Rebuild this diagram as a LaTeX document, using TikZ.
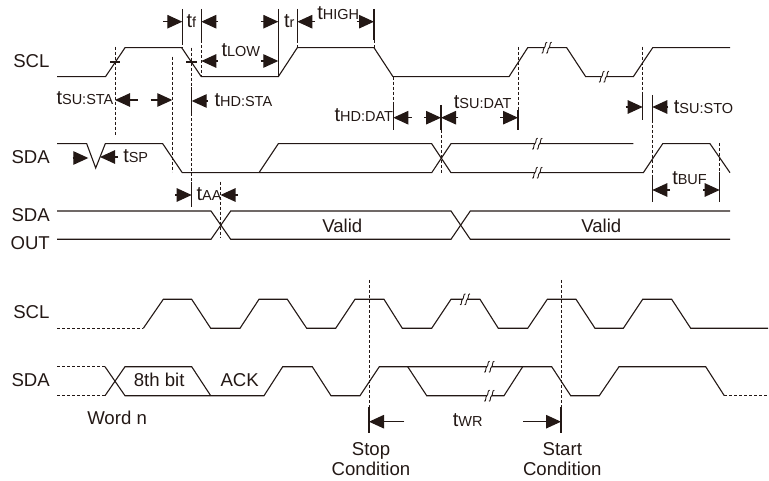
\documentclass[tikz,border=0pt]{standalone}
\usepackage{fontspec}
\setmainfont{Liberation Sans}
\usetikzlibrary{arrows.meta}
\definecolor{inkk}{HTML}{231815}
\newcommand{\tlab}[1]{{\fontsize{20}{20}\selectfont t}{\fontsize{14.5}{14}\selectfont #1}}

\begin{document}
\begin{tikzpicture}[x=1pt,y=-1pt,line width=1.1pt,color=inkk]
	\tikzstyle{lab}=[anchor=base west,inner sep=0pt,font=\fontsize{18.6}{20}\selectfont,text=inkk]
	\tikzstyle{midlab}=[lab,anchor=base]
	\tikzstyle{guide}=[dash pattern=on 3pt off 2pt,line width=1pt]
	\tikzstyle{tick}=[line width=1.1pt]
	\tikzstyle{dimarrow}=[-{Triangle[length=15pt,width=13.5pt]},line width=1.1pt]
	\tikzset{brk/.pic={
		\fill[white] (-2.2,-4) rectangle (2.2,4);
		\draw[line width=.9pt] (-5,5.5) .. controls (-2.8,6) and (-4.2,1) .. (-2.4,0) .. controls (-.8,-1) and (-2,-5.5) .. (.4,-5.5);
		\draw[line width=.9pt] (-.4,5.5) .. controls (1.8,6) and (.4,1) .. (2.4,0) .. controls (3.8,-1) and (2.6,-5.5) .. (5,-5.5);
	}}
	\useasboundingbox (0,0) rectangle (769,481);
	% upper SCL
	\draw (57,76.7) -- (105.5,76.7) -- (125,47.7) -- (181.7,47.7) -- (201.3,76.7) -- (278.3,76.7) -- (297.3,47.7) -- (374,47.7)
		-- (393,76.7) -- (509,76.7) -- (527.7,47.7) -- (566.7,47.7) -- (585.7,76.7) -- (633.3,76.7) -- (652.7,47.7) -- (730,47.7);
	\draw (110,62) -- (120,62);
	\draw (186,62) -- (197,62);
	% upper SDA
	\draw (57,143.7) -- (86.7,143.7) -- (95.7,168) -- (105.3,143.7) -- (162.7,143.7) -- (182.3,172.7) -- (431.7,172.7)
		-- (451,143.7) -- (633.3,143.7);
	\draw (259,172.7) -- (278.3,143.7) -- (431.7,143.7) -- (451,172.7) -- (643.3,172.7) -- (662.7,143.7) -- (710,143.7) -- (730,172.7);
	% SDA OUT
	\draw (57,211) -- (211,211) -- (230.7,239.3) -- (451,239.3) -- (470.3,211) -- (730,211);
	\draw (57,239.3) -- (211,239.3) -- (230.7,211) -- (451,211) -- (470.3,239.3) -- (730,239.3);
	% lower SCL
	\draw[guide] (57,328.3) -- (143.3,328.3);
	\draw (143.3,328.3) -- (163.3,299.3) -- (191.7,299.3) -- (210.7,328.3) -- (240,328.3) -- (259,299.3) -- (287.3,299.3)
		-- (306.7,328.3) -- (335.7,328.3) -- (355,299.3) -- (384,299.3) -- (402.3,328.3) -- (431.7,328.3) -- (451,299.3)
		-- (480,299.3) -- (498.3,328.3) -- (527.7,328.3) -- (547.3,299.3) -- (576,299.3) -- (595,328.3) -- (623.3,328.3)
		-- (642.7,299.3) -- (671.7,299.3) -- (690.7,328.3) -- (768,328.3);
	% lower SDA
	\draw[guide] (57,366.7) -- (105,366.7);
	\draw[guide] (57,395.7) -- (105,395.7);
	\draw[guide] (724.3,395.7) -- (769,395.7);
	\draw (105,366.7) -- (125,395.7) -- (210.7,395.7) -- (264,395.7) -- (282.7,366.7) -- (312.3,366.7) -- (331,395.7)
		-- (360,395.7) -- (379.3,366.7) -- (551.7,366.7) -- (570.7,395.7) -- (599.3,395.7) -- (619,366.7) -- (705.7,366.7) -- (724.3,395.7);
	\draw (105,395.7) -- (125,366.7) -- (191.7,366.7) -- (210.7,395.7);
	\draw (407.7,366.7) -- (426.7,395.7) -- (504,395.7) -- (522.7,366.7);
	% breaks
	\foreach \x/\y in {546.7/47.7,604/76.7,537.3/143.7,537.3/172.7,465/299.3,489.3/366.7,489.3/395.7}
		\pic at (\x,\y) {brk};
	% dashed guides
	\foreach \x/\ya/\yb in {115/46.7/135,172.3/56.7/171.7,191.7/47.7/87,191.7/113/182,220.5/181.7/238,182.3/42/47.7,201.3/40/76.7,297.3/40/47.7,374/40/47.7,
		393.3/76.7/105,441/130/172.7,518/47/110,642.7/46.7/95,652.3/120/175,719.7/143/172,369/280/406.7,561/280/406.7}
		\draw[guide] (\x,\ya) -- (\x,\yb);
	% solid ticks
	\foreach \x/\ya/\yb in {182.3/9/42,201.3/9/40,278.3/9/76.7,297.3/9/40,374/9/40,191.7/87/113,191.7/182/206.7,393.3/105/130,441/105/130,518/110/130,
		642.7/95/120,652.3/95/120,652.3/175/201.7,719.7/172/201.7,369/406.7/433.3,561/406.7/433.3}
		\draw[tick] (\x,\ya) -- (\x,\yb);
	% timing arrows
	\foreach \n/\xa/\xb/\y in {tfl/163.3/182.3/21.7,tfr/218/201.3/21.7,trl/260.7/278.3/21.7,trr/315/297.3/21.7,thigh/356.7/374/21.7,
		tlowl/218/201.3/61,tlowr/260.7/278.3/61,tstal/137.7/115/100,tstar/150.7/172.3/100,thsta/208/191.7/101,
		tspl/72.7/88.3/158,tspr/118/100/157,taal/175/191.7/195,taar/238/220.5/195,
		thdatl/411.7/393.3/117.7,thdatr/424.3/441/117.7,tsdatl/458.3/441/117.7,tsdatr/500/518/117.7,
		tstol/625.7/642.7/107,tstor/668.3/652.3/107,tbufl/670/652.3/190,tbufr/703.3/719.7/190,
		twrl/404.3/369/421.7,twrr/523.3/561/421.7}{
		\coordinate (\n a) at (\xa,\y);
		\coordinate (\n b) at (\xb,\y);
		\draw[dimarrow] (\n a) -- (\n b);
	}
	% signal names
	\node[lab] (scla) at (12.7,68) {SCL};
	\node[lab] (sdaa) at (11,164) {SDA};
	\node[lab] (sdab) at (11,221.7) {SDA};
	\node[lab] (outa) at (10,250) {OUT};
	\node[lab] (sclb) at (12.7,319) {SCL};
	\node[lab] (sdac) at (11,386.7) {SDA};
	\node[lab] (valida) at (321.7,232.7) {Valid};
	\node[lab] (validb) at (580.7,232.7) {Valid};
	\node[lab] (bit) at (133.3,386) {8th bit};
	\node[lab] (ack) at (220,386) {ACK};
	\node[lab] (word) at (86.7,424) {Word n};
	\node[midlab] (stopa) at (371,455) {Stop};
	\node[midlab] (stopb) at (371,475) {Condition};
	\node[midlab] (starta) at (562.3,455) {Start};
	\node[midlab] (startb) at (562.3,475) {Condition};
	% timing labels
	\node[lab] (tf) at (186,27.5) {\tlab{f}};
	\node[lab] (tr) at (283.5,27.5) {\tlab{r}};
	\node[lab] (thi) at (316.7,19.3) {\tlab{HIGH}};
	\node[lab] (tlow) at (221,57) {\tlab{LOW}};
	\node[lab] (tsusta) at (56,105) {\tlab{SU:STA}};
	\node[lab] (thdsta) at (214,107) {\tlab{HD:STA}};
	\node[lab] (thddat) at (334,122) {\tlab{HD:DAT}};
	\node[lab] (tsudat) at (453.3,108.3) {\tlab{SU:DAT}};
	\node[lab] (tsusto) at (673.3,113.3) {\tlab{SU:STO}};
	\node[lab] (tsp) at (122.7,162.7) {\tlab{SP}};
	\node[lab] (taa) at (196,200.7) {\tlab{AA}};
	\node[lab] (tbuf) at (671.7,185) {\tlab{BUF}};
	\node[lab] (twr) at (452.3,426.7) {\tlab{WR}};
\end{tikzpicture}
\end{document}
